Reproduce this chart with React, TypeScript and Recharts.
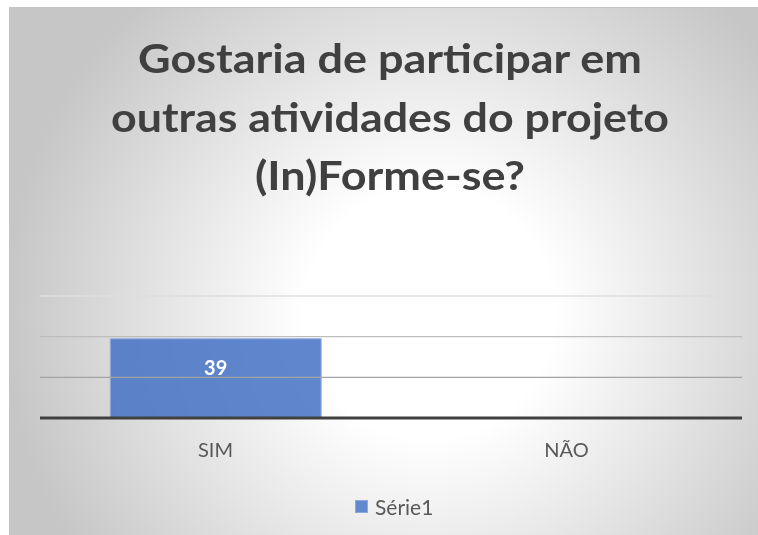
import React from "react";
import { BarChart, Bar, XAxis, YAxis, ReferenceLine, LabelList, Legend } from "recharts";

const categories = ["SIM", "NÃO"];
const serie1 = [39, 0];
const yTicks = [0, 20, 40, 60];
const gridColors = ["#dedede", "#bdbdbd", "#a3a3a3"]; // 60, 40, 20
const titleLines = ["Gostaria de participar em", "outras atividades do projeto", "(In)Forme-se?"];
const titleWidths = [504, 558, 270];

const data = categories.map((c, i) => ({ cat: c, v: serie1[i] }));

const FONT = "Lato, 'Open Sans', sans-serif";

function ValueLabel(props: any) {
  const { x, y, width, height, value } = props;
  // rótulo "extremidade interna" ao estilo do Excel
  const by = height > 40 ? y + 36 : y + height - 18;
  return (
    <text x={x + width / 2} y={by} textAnchor="middle" fill="#ffffff" fontSize={20} fontWeight={700} fontFamily={FONT}>
      {value}
    </text>
  );
}

function LegendBox(props: any) {
  const items = props.payload || [];
  return (
    <div style={{ display: "flex", alignItems: "center", paddingLeft: 345, fontFamily: FONT }}>
      {items.map((it: any) => (
        <div key={it.value} style={{ display: "flex", alignItems: "center" }}>
          <span style={{ width: 13, height: 13, background: "#6289ce", border: "1px solid #8eaadc", boxSizing: "border-box", marginRight: 7 }} />
          <span style={{ fontSize: 21, color: "#595959" }}>{it.value}</span>
        </div>
      ))}
    </div>
  );
}

export default function App() {
  return (
    <div
      style={{
        position: "fixed",
        left: 9,
        top: 7,
        width: 749,
        height: 528,
        boxSizing: "border-box",
        borderTop: "1px solid #c4c4c4",
        borderLeft: "1px solid #c4c4c4",
        background: "radial-gradient(circle at 56% 58%, #ffffff 0%, #ffffff 24%, #c6c6c6 82%)",
        overflow: "hidden",
      }}
    >
      <svg width={748} height={220} style={{ position: "absolute", left: 0, top: 0 }}>
        {titleLines.map((t, i) => (
          <text
            key={t}
            x={380}
            y={65 + i * 58.5}
            textAnchor="middle"
            fontFamily={FONT}
            fontWeight={700}
            fontSize={41}
            fill="#404040"
            textLength={titleWidths[i]}
            lengthAdjust="spacingAndGlyphs"
          >
            {t}
          </text>
        ))}
      </svg>
      <div style={{ position: "absolute", left: 0, top: 0 }}>
        <BarChart width={748} height={527} data={data} margin={{ top: 288, right: 16, bottom: 87, left: 30 }} barCategoryGap="20%">
          <YAxis hide domain={[0, 60]} ticks={yTicks} />
          {yTicks.slice(1).reverse().map((t, i) => (
            <ReferenceLine key={t} y={t} stroke={gridColors[i]} strokeWidth={1.3} />
          ))}
          <XAxis
            dataKey="cat"
            height={30}
            tickLine={false}
            axisLine={{ stroke: "#404040", strokeWidth: 3 }}
            tick={{ fontSize: 20, fill: "#595959", fontFamily: FONT }}
            tickMargin={19}
          />
          <Legend verticalAlign="middle" wrapperStyle={{ top: 486, left: 0, width: 748 }} content={<LegendBox />} />
          <Bar dataKey="v" name="Série1" fill="#4472c4" fillOpacity={0.85} stroke="#9db4e0" strokeWidth={1} isAnimationActive={false}>
            <LabelList dataKey="v" content={<ValueLabel />} />
          </Bar>
        </BarChart>
      </div>
    </div>
  );
}
